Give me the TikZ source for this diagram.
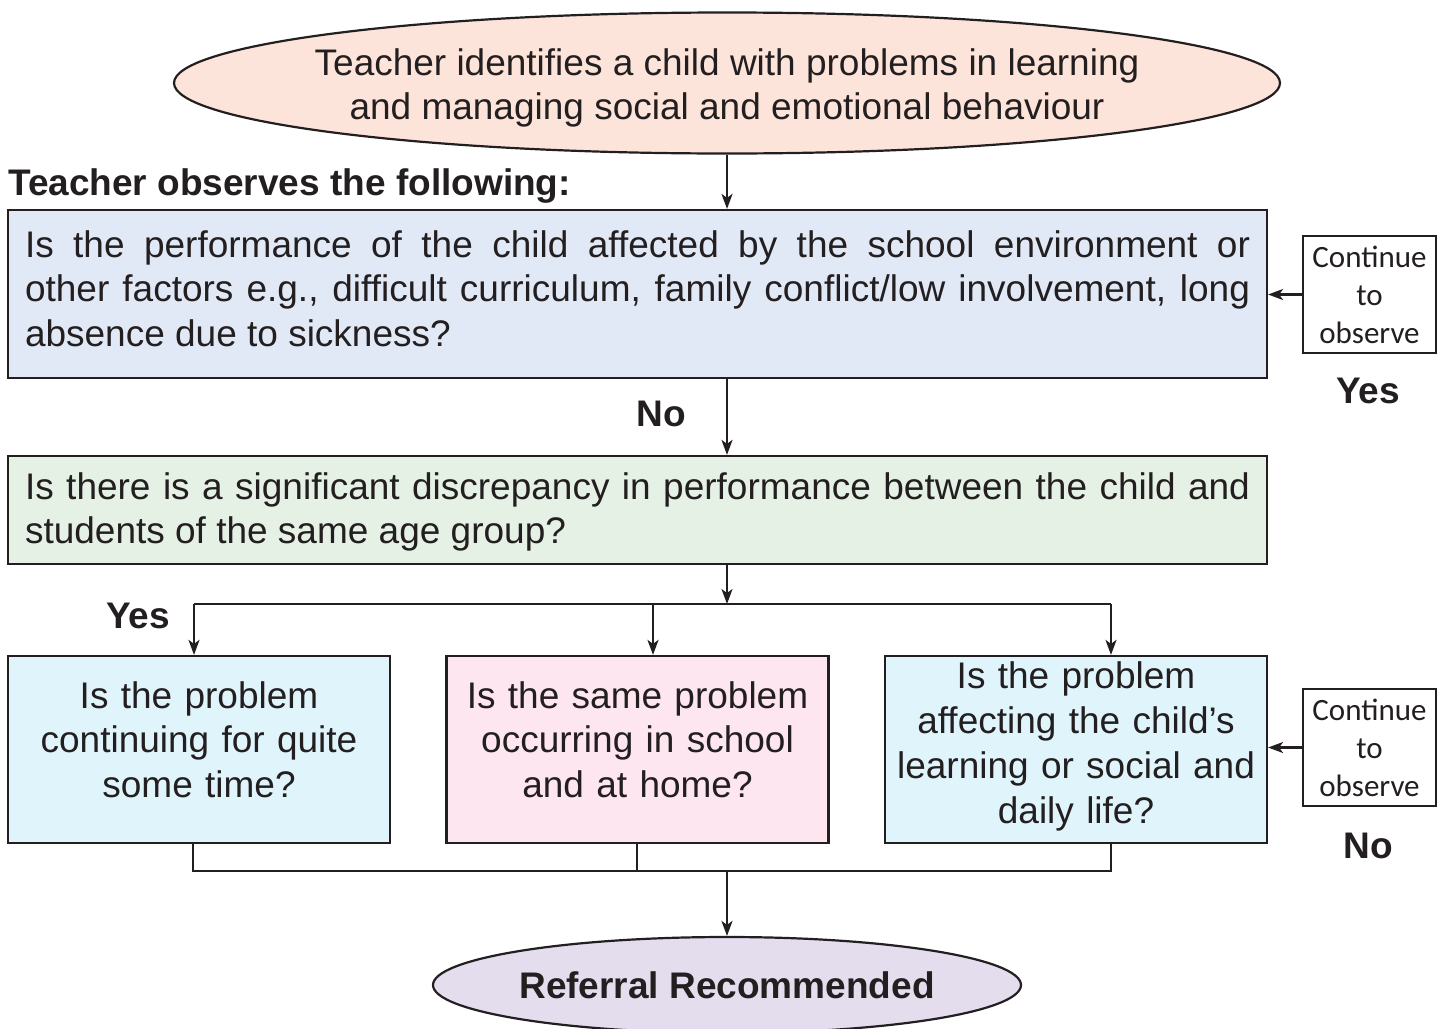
\documentclass[tikz,border=0pt]{standalone}
\usepackage{fontspec}
\setmainfont{Liberation Sans}
\newfontfamily\calib{Carlito}
\usetikzlibrary{shapes.geometric,arrows.meta}
\definecolor{ink}{HTML}{231F20}
\definecolor{topcol}{HTML}{FDE4DA}
\definecolor{bonecol}{HTML}{E2E9F6}
\definecolor{btwocol}{HTML}{E5F1E5}
\definecolor{cyancol}{HTML}{E0F4FC}
\definecolor{pinkcol}{HTML}{FDE6EF}
\definecolor{botcol}{HTML}{E3DDEE}
\newcommand\bigtxt{\fontsize{37}{44.5}\selectfont}
\newcommand\liftby[1]{\par\vspace{#1}\hrule height 0pt width 0pt}
\tikzset{
  ln/.style={draw=ink, line width=2.2pt, line join=miter},
  arr/.style={ln, -{Stealth[length=15pt,width=11pt,inset=4pt]}},
  box/.style={draw=ink, line width=2.2pt, inner sep=0pt, font=\bigtxt, text=ink},
  qbox/.style={box, minimum width=382pt, minimum height=187pt, text width=380pt, align=center},
  cbox/.style={draw=ink, line width=2pt, fill=white, inner sep=0pt, minimum width=133pt,
    minimum height=117pt, align=center, text=ink, font=\calib\fontsize{31}{38}\selectfont},
  lbl/.style={inner sep=0pt, text=ink, font=\bigtxt\bfseries},
  oval/.style={ellipse, draw=ink, line width=2.2pt, inner sep=0pt, text=ink, align=center},
  plain/.style={inner sep=0pt, text=ink, align=center}
}
\begin{document}
\begin{tikzpicture}[x=1pt,y=-1pt]
\useasboundingbox (0,0) rectangle (1445,1028);

\node[oval, fill=topcol, minimum width=1106pt, minimum height=141pt] (top) at (727,83) {};
\node[plain, font=\bigtxt] (toptext) at (727,88)
  {Teacher identifies a child with problems in learning\\and managing social and emotional behaviour};

\node[lbl, anchor=base west] (obs) at (8,195) {Teacher observes the following:};

\node[box, fill=bonecol, minimum width=1259pt, minimum height=168pt, text width=1225pt, align=justify] (b1) at (637.5,294)
  {Is the performance of the child affected by the school environment or\linebreak other factors e.g., difficult curriculum, family conflict/low involvement, long\linebreak absence due to sickness?\liftby{11pt}};

\node[cbox] (c1) at (1369.5,294.5) {Continue\\to\\observe};
\node[lbl, anchor=base] (yes1) at (1368,403) {Yes};

\node[lbl, anchor=base] (no1) at (661,426) {No};

\node[box, fill=btwocol, minimum width=1259pt, minimum height=108pt, text width=1225pt, align=justify] (b2) at (637.5,510)
  {Is there is a significant discrepancy in performance between the child and\linebreak students of the same age group?\liftby{0pt}\vspace*{-4pt}};

\node[lbl, anchor=base] (yes2) at (138,628) {Yes};

\node[qbox, fill=cyancol] (qa) at (199,749.5)
  {Is the problem\\continuing for quite\\some time?\liftby{20pt}};
\node[qbox, fill=pinkcol] (qb) at (637.5,749.5)
  {Is the same problem\\occurring in school\\and at home?\liftby{20pt}};
\node[qbox, fill=cyancol, font=\fontsize{37}{45}\selectfont] (qc) at (1076,749.5)
  {Is the problem\\affecting the child’s\\learning or social and\\daily life?\liftby{6pt}};

\node[cbox] (c2) at (1369.5,747.5) {Continue\\to\\observe};
\node[lbl, anchor=base] (no2) at (1368,858) {No};

\node[oval, fill=botcol, minimum width=588pt, minimum height=96pt, font=\bigtxt\bfseries] (bot) at (727,985)
  {Referral Recommended};

% connectors
\draw[arr] (top.south) -- (top.south |- b1.north);
\draw[arr] (b1.south -| top.south) -- (b2.north -| top.south);
\coordinate (j) at (727,604);
\coordinate (jl) at (194,604);
\coordinate (jm) at (653,604);
\coordinate (jr) at (1111,604);
\draw[arr] (b2.south -| j) -- (j);
\draw[ln] (jl) -- (jr);
\draw[arr] (jl) -- (jl |- qa.north);
\draw[arr] (jm) -- (jm |- qb.north);
\draw[arr] (jr) -- (jr |- qc.north);

\coordinate (kl) at (193,871);
\coordinate (km) at (637,871);
\coordinate (kr) at (1111,871);
\coordinate (kc) at (727,871);
\draw[ln] (qa.south -| kl) -- (kl) -- (kr) -- (qc.south -| kr);
\draw[ln] (qb.south -| km) -- (km);
\draw[arr] (kc) -- (bot.north);

\draw[arr] (c1.west) -- (c1.west -| b1.east);
\draw[arr] (c2.west) -- (c2.west -| qc.east);
\end{tikzpicture}
\end{document}
